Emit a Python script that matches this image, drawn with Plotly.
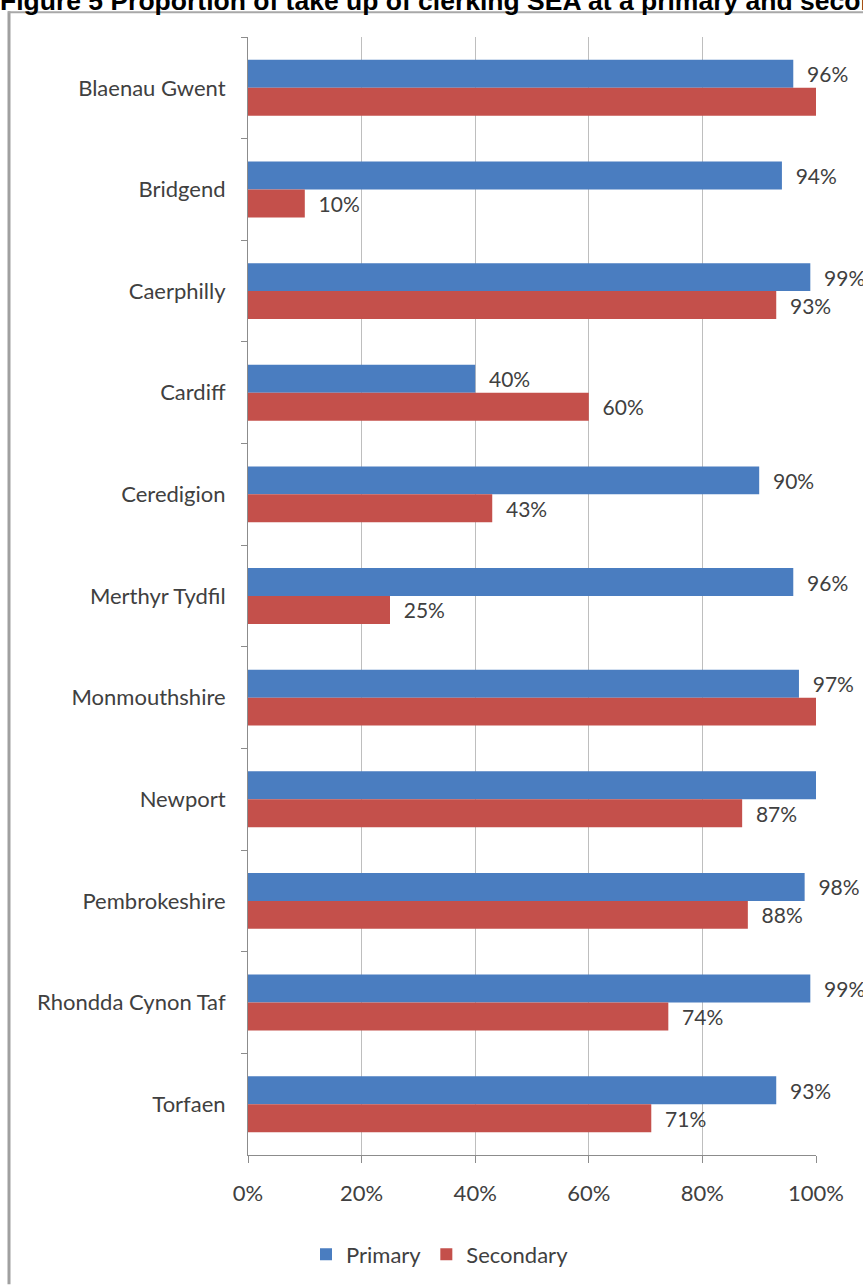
import plotly.graph_objects as go

categories = ["Blaenau Gwent", "Bridgend", "Caerphilly", "Cardiff", "Ceredigion",
              "Merthyr Tydfil", "Monmouthshire", "Newport", "Pembrokeshire",
              "Rhondda Cynon Taf", "Torfaen"]
primary = [96, 94, 99, 40, 90, 96, 97, 100, 98, 99, 93]
secondary = [100, 10, 93, 60, 43, 25, 100, 87, 88, 74, 71]
x_ticks = [0, 20, 40, 60, 80, 100]
x_tick_labels = ["0%", "20%", "40%", "60%", "80%", "100%"]
title_text = "Figure 5 Proportion of take up of clerking SEA at a primary and secondary level"

W, H = 863, 1287
L, R, T, B = 248, 47, 37, 125
PW, PH = W - L - R, H - T - B


def px(xp):
    return (xp - L) / PW


def py(yp):
    return (H - B - yp) / PH


def labels(vals):
    return ["\u00a0\u00a0" + f"{v}%" if v < 100 else "" for v in vals]


font = dict(family="Lato, Open Sans, sans-serif", size=22, color="#404040")
label_font = dict(family="Lato, Open Sans, sans-serif", size=21, color="#404040")

fig = go.Figure()
fig.add_trace(go.Bar(y=categories, x=primary, name="Primary", orientation="h",
                     marker=dict(color="#4A7DC0", line=dict(width=0)),
                     text=labels(primary), textposition="outside",
                     textfont=label_font, cliponaxis=False, constraintext="none"))
fig.add_trace(go.Bar(y=categories, x=secondary, name="Secondary", orientation="h",
                     marker=dict(color="#C4504B", line=dict(width=0)),
                     text=labels(secondary), textposition="outside",
                     textfont=label_font, cliponaxis=False, constraintext="none"))

fig.update_layout(
    width=W, height=H,
    margin=dict(l=L, r=R, t=T, b=B, pad=0),
    paper_bgcolor="white", plot_bgcolor="white",
    barmode="group", bargap=0.45, bargroupgap=0,
    font=font,
    showlegend=True,
    legend=dict(orientation="h", x=px(440), xanchor="center", y=py(1262), yanchor="middle",
                font=font, itemwidth=30, traceorder="normal"),
    xaxis=dict(range=[0, 100], tickvals=x_ticks, ticktext=x_tick_labels,
               showgrid=True, gridcolor="#BEBEBE", gridwidth=1,
               showline=True, linecolor="#8C8C8C", linewidth=1,
               ticks="outside", ticklen=7, tickcolor="#8C8C8C",
               tickfont=font, zeroline=False, fixedrange=True,
               ticklabelstandoff=12),
    yaxis=dict(autorange="reversed", type="category",
               showline=True, linecolor="#8C8C8C", linewidth=1,
               ticks="outside", ticklen=6, tickcolor="#8C8C8C",
               tickson="boundaries", showgrid=False,
               tickfont=font, ticklabelstandoff=17),
    shapes=[
        dict(type="line", xref="paper", yref="paper",
             x0=px(9), x1=px(9), y0=py(11), y1=py(H + 5),
             line=dict(color="#A0A0A0", width=3)),
        dict(type="line", xref="paper", yref="paper",
             x0=px(8), x1=px(W + 5), y0=py(12), y1=py(12),
             line=dict(color="#A8A8A8", width=2)),
    ],
    annotations=[
        dict(text=f"<b>{title_text}</b>", xref="paper", yref="paper",
             x=px(-2), xanchor="left", y=py(18), yanchor="bottom",
             showarrow=False,
             font=dict(family="Liberation Sans, Arial, sans-serif", size=26.5, color="black")),
    ],
)

fig.write_html("out.html")
